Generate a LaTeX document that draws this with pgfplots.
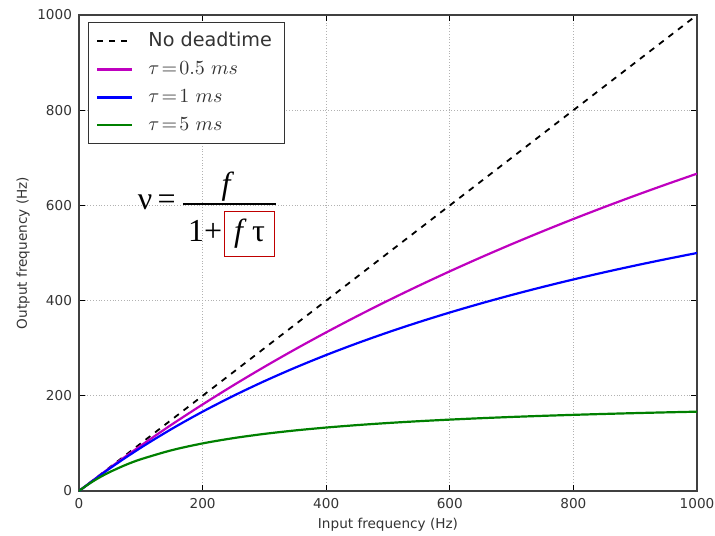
\documentclass[border=0pt]{standalone}
\usepackage{fontspec}
\setmainfont{DejaVu Sans}
\newfontfamily\eqfont{Liberation Serif}
\usepackage{pgfplots}
\pgfplotsset{compat=1.18}
\usetikzlibrary{calc}
\definecolor{mMag}{HTML}{BF00BF}
\definecolor{mBlue}{HTML}{0000FF}
\definecolor{mGreen}{HTML}{008000}
\definecolor{inkT}{HTML}{333333}
\begin{document}
\begin{tikzpicture}
\begin{axis}[name=ax, scale only axis, width=309pt, height=238pt,
    xmin=0, xmax=1000, ymin=0, ymax=1000,
    xtick={0,200,...,1000}, ytick={0,200,...,1000},
    tick align=inside, major tick length=3pt,
    every tick/.append style={black, thin},
    axis line style={black!75, semithick},
    grid=major, grid style={black!30, densely dotted, thin},
    ticklabel style={font=\fontsize{6.8}{8}\selectfont, color=inkT},
    /pgf/number format/assume math mode=true,
    /pgf/number format/1000 sep={},
    xlabel={Input frequency (Hz)}, ylabel={Output frequency (Hz)},
    label style={font=\fontsize{6.8}{8}\selectfont, color=inkT},
    xlabel style={yshift=2pt}, ylabel style={yshift=-3pt},
    legend cell align=left,
    legend style={at={(axis cs:14,986)}, anchor=north west,
      draw=black!80, thin, font=\fontsize{9.6}{11}\selectfont, text=inkT,
      row sep=2pt, inner xsep=4pt, inner ysep=3pt,
      /tikz/every odd column/.append style={column sep=6pt}},
    legend image post style={line width=1.1pt},
    every axis plot/.append style={line width=1.1pt},
  ]
  \addplot[black, dashed, line width=0.9pt] coordinates {(0,0) (1000,1000)};
  \addlegendentry{No deadtime}
  \addplot[mMag, smooth] coordinates {
    (0,0) (50,48.78) (100,95.24) (150,139.53) (200,181.82) (250,222.22)
    (300,260.87) (350,297.87) (400,333.33) (450,367.35) (500,400)
    (550,431.37) (600,461.54) (650,490.57) (700,518.52) (750,545.45)
    (800,571.43) (850,596.49) (900,620.69) (950,644.07) (1000,666.67)};
  \addlegendentry{$\tau\!=\!0.5\ ms$}
  \addplot[mBlue, smooth] coordinates {
    (0,0) (50,47.62) (100,90.91) (150,130.43) (200,166.67) (250,200)
    (300,230.77) (350,259.26) (400,285.71) (450,310.34) (500,333.33)
    (550,354.84) (600,375) (650,393.94) (700,411.76) (750,428.57)
    (800,444.44) (850,459.46) (900,473.68) (950,487.18) (1000,500)};
  \addlegendentry{$\tau\!=\!1\ ms$}
  \addplot[mGreen, smooth] coordinates {
    (0,0) (10,9.52) (20,18.18) (30,26.09) (40,33.33) (50,40) (75,54.55)
    (100,66.67) (150,85.71) (200,100) (250,111.11) (300,120) (350,127.27)
    (400,133.33) (450,138.46) (500,142.86) (550,146.67) (600,150)
    (650,152.94) (700,155.56) (750,157.89) (800,160) (850,161.90)
    (900,163.64) (950,165.22) (1000,166.67)};
  \addlegendentry{$\tau\!=\!5\ ms$}
  % formula
  \node[font=\eqfont\fontsize{16}{18}\selectfont, anchor=base] at (axis cs:126,592) {ν\,=};
  \draw[black, line width=0.6pt] (axis cs:168,603) -- (axis cs:318,603);
  \node[font=\eqfont\fontsize{16}{18}\selectfont\itshape, anchor=base] at (axis cs:238,622) {f};
  \node[font=\eqfont\fontsize{16}{18}\selectfont, anchor=base] at (axis cs:204,524) {1+};
  \node[font=\eqfont\fontsize{16}{18}\selectfont, anchor=base, draw=red!75!black,
        line width=0.8pt, minimum width=25pt, inner ysep=4.5pt,
        text height=10.5pt, text depth=3pt] at (axis cs:276,524) {\textit{f}\,τ};
\end{axis}
\pgfresetboundingbox
\useasboundingbox ($(ax.south west)+(-39.5pt,-22pt)$) rectangle ($(ax.north east)+(9pt,7.5pt)$);
\end{tikzpicture}
\end{document}
